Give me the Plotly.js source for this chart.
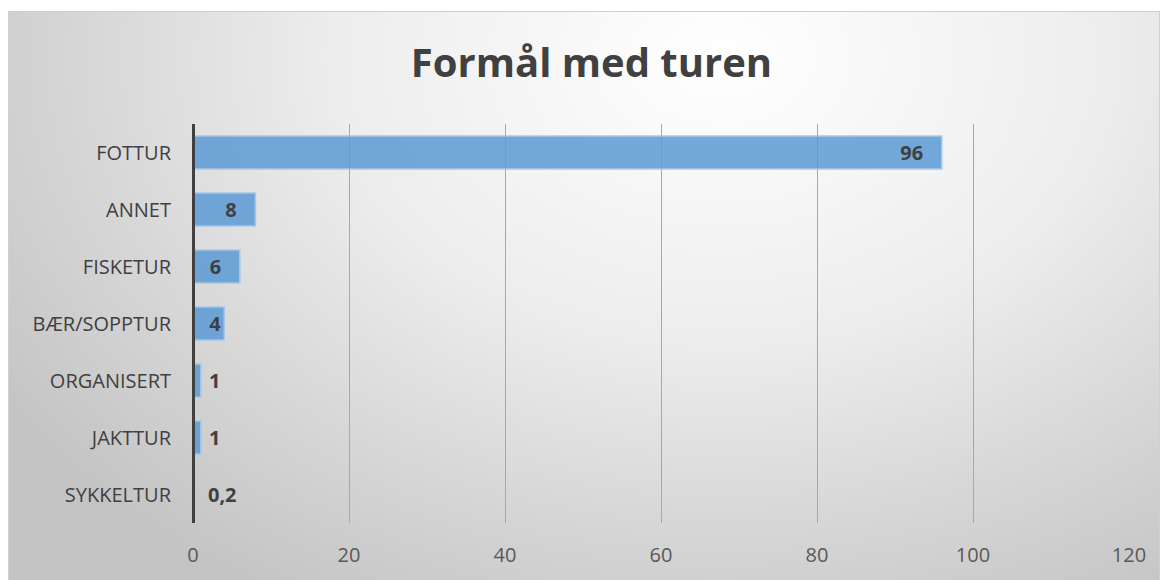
<!DOCTYPE html>
<html>
<head>
<meta charset="utf-8">
<script src="https://cdn.plot.ly/plotly-3.0.1.min.js"></script>
<style>
  html, body { margin: 0; padding: 0; background: #ffffff; }
  #bg { position: absolute; left: 8px; top: 11px; width: 1152px; height: 575px;
        border: 1px solid #d0d0d0; box-sizing: border-box;
        background: radial-gradient(ellipse 75% 110% at 62% 8%, #ffffff 0%, #ededed 45%, #d6d6d6 75%, #c4c4c4 100%); }
  #chart { position: absolute; left: 0; top: 0; width: 1162px; height: 580px; }
</style>
</head>
<body>
<div id="bg"></div>
<div id="chart"></div>
<script>
const categories = ["FOTTUR", "ANNET", "FISKETUR", "BÆR/SOPPTUR", "ORGANISERT", "JAKTTUR", "SYKKELTUR"];
const values = [96, 8, 6, 4, 1, 1, 0.2];
const labels = ["96", "8", "6", "4", "1", "1", "0,2"];
const labelPositions = ["inside", "inside", "inside", "inside", "outside", "outside", "outside"];
const labelPadding = ["\u00a0\u00a0\u00a0", "\u00a0\u00a0\u00a0", "\u00a0\u00a0\u00a0", "", "\u00a0", "\u00a0", "\u00a0\u00a0"];
const xTicks = [0, 20, 40, 60, 80, 100, 120];

const FONT = "'Open Sans', 'Noto Sans', sans-serif";
const shownText = labels.map((t, i) => labelPositions[i] === "inside" ? t + labelPadding[i] : labelPadding[i] + t);

const trace = {
  type: "bar",
  orientation: "h",
  y: categories,
  x: values,
  text: shownText,
  textposition: labelPositions,
  insidetextanchor: "end",
  cliponaxis: false,
  constraintext: "none",
  textfont: { family: FONT, size: 20, color: "#404040", weight: "bold" },
  insidetextfont: { family: FONT, size: 20, color: "#404040", weight: "bold" },
  outsidetextfont: { family: FONT, size: 20, color: "#404040", weight: "bold" },
  marker: { color: "#5B9BD5", opacity: 0.85, line: { color: "#9DC3E6", width: 1.5 } },
  hoverinfo: "none"
};

const layout = {
  width: 1162, height: 580,
  margin: { l: 193, r: 33, t: 124, b: 57 },
  paper_bgcolor: "rgba(0,0,0,0)",
  plot_bgcolor: "rgba(0,0,0,0)",
  showlegend: false,
  bargap: 0.42,
  font: { family: FONT, color: "#595959" },
  title: {
    text: "Formål med turen",
    font: { family: FONT, size: 40, color: "#404040", weight: "bold" },
    x: 0.509, xanchor: "center", y: 0.892, yanchor: "middle"
  },
  xaxis: {
    range: [0, 120],
    tickvals: xTicks,
    ticktext: xTicks.map(String),
    showgrid: true, gridcolor: "#a8a8a8", gridwidth: 1,
    zeroline: true, zerolinecolor: "#404040", zerolinewidth: 3,
    zerolinelayer: "above traces",
    showline: false,
    ticks: "", ticklabelstandoff: 18,
    tickfont: { family: FONT, size: 20, color: "#595959" },
    fixedrange: true
  },
  yaxis: {
    type: "category",
    autorange: "reversed",
    showline: false,
    showgrid: false, zeroline: false,
    ticks: "", ticklabelstandoff: 21,
    tickfont: { family: FONT, size: 20, color: "#404040" },
    fixedrange: true
  }
};

Plotly.newPlot("chart", [trace], layout, { displayModeBar: false, staticPlot: true });
</script>
</body>
</html>
